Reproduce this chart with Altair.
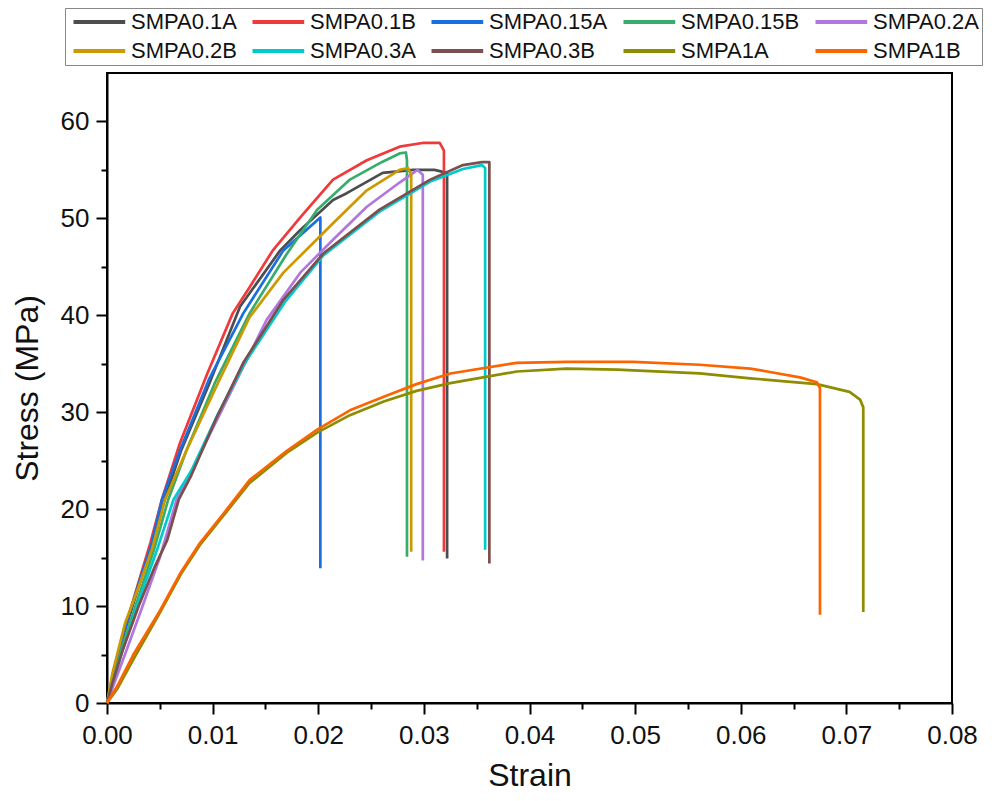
import altair as alt
import pandas as pd

names = ["SMPA0.1A", "SMPA0.1B", "SMPA0.15A", "SMPA0.15B", "SMPA0.2A",
         "SMPA0.2B", "SMPA0.3A", "SMPA0.3B", "SMPA1A", "SMPA1B"]
colors = ["#4d4d4d", "#f0393b", "#1a6fdf", "#37ad6b", "#b177de",
          "#cc9900", "#00cbcc", "#7d4e4e", "#8e8c00", "#fb6501"]

s_01A = [0, .0005, .0015, .0030, .0042, .0053, .0070, .0097, .0126, .0164, .0183, .0214, .0227, .0261, .0290, .0310, .0322, .0322]
y_01A = [0, 2.3, 6.8, 12, 16, 20.5, 26, 33, 40.9, 46.7, 48.8, 51.9, 52.6, 54.7, 55, 55, 54.7, 14.9]

s_01B = [0, .0005, .0015, .0030, .0041, .0052, .0069, .0095, .0119, .0135, .0157, .0183, .0214, .0246, .0277, .0300, .0315, .0319, .0319]
y_01B = [0, 2.5, 7, 12.5, 16.5, 21, 26.8, 34, 40.2, 42.9, 46.7, 50.1, 54, 56, 57.4, 57.8, 57.8, 57.0, 15.6]

s_015A = [0, .0005, .0015, .0030, .0042, .0052, .0070, .0097, .0129, .0167, .0202, .0202]
y_015A = [0, 2.4, 7, 12.3, 16.3, 21, 26.3, 33.5, 40.2, 46.7, 50.1, 13.9]

s_015B = [0, .0005, .0015, .0030, .0045, .0058, .0075, .0102, .0135, .0170, .0199, .0230, .0260, .0277, .0283, .0284, .0284]
y_015B = [0, 2, 6, 11, 16, 21, 26, 33, 40.2, 46.3, 50.9, 54, 55.8, 56.7, 56.8, 56, 15.1]

s_02A = [0, .0005, .0017, .0032, .0050, .0066, .0085, .0110, .0151, .0183, .0214, .0246, .0277, .0294, .0299, .0299]
y_02A = [0, 1.5, 5, 9.5, 15, 21, 25, 30.5, 39.5, 44.4, 47.8, 51.2, 53.7, 55, 54.5, 14.7]

s_02B = [0, .0005, .0017, .0030, .0043, .0055, .0075, .0105, .0135, .0167, .0214, .0246, .0277, .0285, .0288, .0288]
y_02B = [0, 3, 8.2, 12, 16, 21, 26, 33, 39.8, 44.4, 49.5, 52.9, 55, 55.2, 54.5, 15.6]

s_03A = [0, .0005, .0015, .0030, .0048, .0063, .0080, .0105, .0130, .0168, .0205, .0258, .0306, .0337, .0355, .0358, .0358]
y_03A = [0, 2, 5.5, 10.5, 16, 21, 24, 29.8, 35, 41.3, 46.2, 50.7, 53.8, 55.1, 55.5, 55.2, 15.8]

s_03B = [0, .0005, .0015, .0030, .0045, .0057, .0068, .0079, .0104, .0129, .0167, .0205, .0258, .0306, .0337, .0355, .0362, .0362]
y_03B = [0, 2, 5.5, 10, 14, 16.8, 21, 23.3, 29.5, 35.1, 41.6, 46.4, 50.9, 54, 55.5, 55.8, 55.8, 14.4]

s_1A = [0, .0010, .0025, .0050, .0070, .0088, .0110, .0135, .0170, .0199, .0230, .0262, .0293, .0325, .0388, .0435, .0483, .0561, .0609, .0672, .0703, .0713, .0716, .0716]
y_1A = [0, 1.5, 4.5, 9.3, 13.3, 16.3, 19.3, 22.7, 25.8, 27.9, 29.7, 31.1, 32.2, 33, 34.2, 34.5, 34.4, 34, 33.5, 32.9, 32.1, 31.3, 30.5, 9.4]

s_1B = [0, .0010, .0025, .0050, .0070, .0088, .0110, .0135, .0170, .0199, .0230, .0262, .0293, .0325, .0388, .0435, .0498, .0561, .0609, .0625, .0656, .0672, .0675, .0675]
y_1B = [0, 1.8, 5, 9.5, 13.5, 16.5, 19.5, 23, 26, 28.2, 30.2, 31.6, 32.9, 34, 35.1, 35.2, 35.2, 34.9, 34.5, 34.2, 33.6, 33.1, 32.5, 9.1]

series = [(s_01A, y_01A), (s_01B, y_01B), (s_015A, y_015A), (s_015B, y_015B),
          (s_02A, y_02A), (s_02B, y_02B), (s_03A, y_03A), (s_03B, y_03B),
          (s_1A, y_1A), (s_1B, y_1B)]

rows = []
for name, (xs, ys) in zip(names, series):
    for i, (xv, yv) in enumerate(zip(xs, ys)):
        rows.append({"series": name, "strain": xv, "stress": yv, "idx": i})
df = pd.DataFrame(rows)

x_ticks = [round(i * 0.005, 3) for i in range(17)]
y_ticks = list(range(0, 61, 5))
FONT = "Liberation Sans"

chart = alt.Chart(df).mark_line(strokeWidth=2.7, strokeJoin="round").encode(
    x=alt.X("strain:Q",
            scale=alt.Scale(domain=[0, 0.08], nice=False, zero=False),
            axis=alt.Axis(
                title="Strain", values=x_ticks, labelFlush=False,
                labelExpr="round(datum.value*200) % 2 == 0 ? format(datum.value, '.2f') : ''",
                tickSize={"condition": {"test": "round(datum.value*200) % 2 == 0", "value": 11}, "value": 6},
                labelPadding=8, titlePadding=12)),
    y=alt.Y("stress:Q",
            scale=alt.Scale(domain=[0, 65], nice=False),
            axis=alt.Axis(
                title="Stress (MPa)", values=y_ticks,
                labelExpr="datum.value % 10 == 0 ? format(datum.value, 'd') : ''",
                tickSize={"condition": {"test": "datum.value % 10 == 0", "value": 11}, "value": 6},
                labelPadding=7, titlePadding=16)),
    color=alt.Color("series:N",
                    scale=alt.Scale(domain=names, range=colors),
                    legend=alt.Legend(
                        title=None, orient="none", legendX=-42, legendY=-65,
                        direction="horizontal", columns=5,
                        symbolType="M-1,0H8.4", symbolSize=121, symbolStrokeWidth=4,
                        labelFontSize=22, labelFont=FONT, labelColor="#111",
                        labelOffset=41, columnPadding=7, rowPadding=7,
                        padding=3, strokeColor="#888", fillColor="white",
                        labelLimit=300)),
    order=alt.Order("idx:Q"),
    detail="series:N",
).properties(
    width=845, height=630,
    autosize=alt.AutoSizeParams(type="none"),
    padding={"left": 99, "top": 65, "right": 32, "bottom": 90},
    background="white",
).configure_view(
    stroke="black", strokeWidth=2
).configure_axis(
    grid=False, domainColor="black", domainWidth=2, tickColor="black", tickWidth=2,
    labelFont=FONT, labelFontSize=26, labelColor="#111",
    titleFont=FONT, titleFontSize=32, titleFontWeight="normal", titleColor="#111",
)

chart.save("out.html", embed_options={"renderer": "svg", "actions": False})
